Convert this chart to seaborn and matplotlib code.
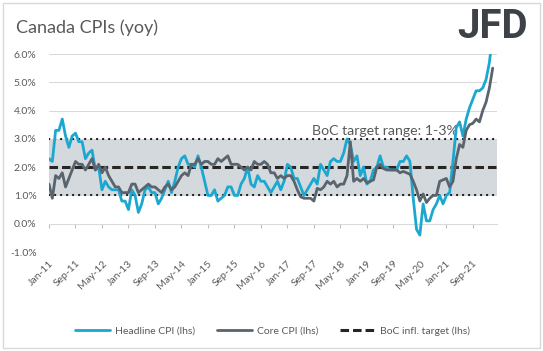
import matplotlib
matplotlib.use('Agg')
import matplotlib.pyplot as plt
import seaborn as sns
import numpy as np
import pandas as pd
from matplotlib.patches import Rectangle
from matplotlib.ticker import FuncFormatter

# ---- data (monthly, Jan-11 .. Mar-22, % yoy) ----
headline = [
    2.3, 2.2, 3.3, 3.3, 3.7, 3.1, 2.7, 3.1, 3.2, 2.9, 2.9, 2.3,
    2.5, 2.6, 1.9, 2.0, 1.2, 1.5, 1.3, 1.2, 1.2, 1.2, 0.8, 0.8,
    0.5, 1.2, 1.0, 0.4, 0.7, 1.2, 1.3, 1.1, 1.1, 0.7, 0.9, 1.2,
    1.5, 1.1, 1.5, 2.0, 2.3, 2.4, 2.1, 2.1, 2.0, 2.4, 2.0, 1.5,
    1.0, 1.0, 1.2, 0.8, 0.9, 1.0, 1.3, 1.3, 1.0, 1.0, 1.4, 1.6,
    2.0, 1.4, 1.3, 1.7, 1.5, 1.5, 1.3, 1.1, 1.3, 1.5, 1.2, 1.5,
    2.1, 2.0, 1.6, 1.6, 1.3, 1.0, 1.2, 1.4, 1.6, 1.4, 2.1, 1.9,
    1.7, 2.2, 2.3, 2.2, 2.2, 2.5, 3.0, 2.8, 2.2, 2.4, 1.7, 2.0,
    1.4, 1.5, 1.9, 2.0, 2.4, 2.0, 2.0, 1.9, 1.9, 1.9, 2.2, 2.2,
    2.4, 2.2, 0.9, -0.2, -0.4, 0.7, 0.1, 0.1, 0.5, 0.7, 1.0, 0.7,
    1.0, 1.1, 2.2, 3.4, 3.6, 3.1, 3.7, 4.1, 4.4, 4.7, 4.7, 4.8,
    5.1, 5.7, 6.7,
]
core = [
    1.4, 0.9, 1.7, 1.6, 1.8, 1.3, 1.6, 1.9, 2.2, 2.1, 2.1, 1.9,
    2.1, 2.3, 1.9, 2.1, 1.8, 2.0, 1.7, 1.5, 1.3, 1.3, 1.1, 1.1,
    1.1, 1.4, 1.4, 1.1, 1.2, 1.3, 1.4, 1.3, 1.3, 1.2, 1.1, 1.3,
    1.4, 1.2, 1.3, 1.5, 1.7, 1.8, 1.7, 2.1, 2.1, 2.3, 2.1, 2.2,
    2.2, 2.1, 2.1, 2.3, 2.2, 2.3, 2.4, 2.1, 2.1, 2.1, 2.0, 1.9,
    2.0, 1.9, 2.2, 2.1, 2.1, 2.2, 2.1, 1.8, 1.8, 1.6, 1.7, 1.6,
    1.7, 1.7, 1.5, 1.2, 0.95, 0.9, 0.9, 0.9, 0.8, 1.25, 1.2, 1.3,
    1.5, 1.4, 1.5, 1.3, 1.4, 1.4, 1.7, 2.9, 1.5, 1.6, 1.5, 1.6,
    1.45, 1.5, 1.55, 2.0, 2.1, 1.95, 1.9, 1.9, 1.9, 1.9, 1.8, 1.85,
    1.8, 1.75, 1.5, 1.2, 0.8, 1.05, 0.75, 0.9, 1.0, 1.0, 1.5, 1.55,
    1.6, 1.3, 1.5, 2.3, 2.8, 2.7, 3.3, 3.5, 3.55, 3.7, 3.6, 4.0,
    4.3, 4.8, 5.5,
]
tick_labels = ['Jan-11', 'Sep-11', 'May-12', 'Jan-13', 'Sep-13', 'May-14',
               'Jan-15', 'Sep-15', 'May-16', 'Jan-17', 'Sep-17', 'May-18',
               'Jan-19', 'Sep-19', 'May-20', 'Jan-21', 'Sep-21']
tick_step = 8
target = 2.0
band_low, band_high = 1.0, 3.0
y_ticks = [-1, 0, 1, 2, 3, 4, 5, 6]

n = len(headline)
df = pd.DataFrame({'month': np.arange(n), 'Headline': headline, 'Core': core})

sns.set_theme(style='white')
plt.rcParams['font.family'] = ['Lato', 'DejaVu Sans']

W, H = 543, 351
fig = plt.figure(figsize=(W / 100, H / 100), dpi=100)
ax = fig.add_axes([49 / W, 99 / H, 448 / W, 198 / H])

grey_txt = '#595959'

# band + reference lines
ax.axhspan(band_low, band_high, color='#D3D9DC', lw=0, zorder=0.5)
for v in (band_low, band_high):
    ax.axhline(v, color='#1a1a1a', lw=1.6, ls=(0, (0.1, 2.6)),
               dash_capstyle='round', zorder=2.5)
ax.axhline(target, color='#262626', lw=2.2, ls=(0, (2.8, 1.3)),
           label='BoC infl. target (lhs)', zorder=2.6)

sns.lineplot(data=df, x='month', y='Headline', ax=ax, color='#1BA8D0',
             lw=2.0, label='Headline CPI (lhs)', zorder=4)
sns.lineplot(data=df, x='month', y='Core', ax=ax, color='#5A646E',
             lw=2.0, label='Core CPI (lhs)', zorder=4.5)

ax.set_xlim(0, 135.3)
ax.set_ylim(-1, 6)
ax.set_yticks(y_ticks)
ax.yaxis.set_major_formatter(FuncFormatter(lambda v, p: f'{v:.1f}%'))
ax.yaxis.grid(True, color='#D9D9D9', lw=0.75)
ax.set_axisbelow(True)
for s in ax.spines.values():
    s.set_visible(False)
ax.set_xlabel('')
ax.set_ylabel('')

xt = np.arange(0, n, tick_step)[:len(tick_labels)]
ax.set_xticks(xt)
ax.set_xticklabels(tick_labels)
ax.tick_params(axis='x', length=0, pad=5, labelsize=7.5, labelcolor=grey_txt)
for lab in ax.get_xticklabels():
    lab.set_rotation(45)
    lab.set_ha('right')
    lab.set_va('top')
    lab.set_rotation_mode('anchor')
ax.tick_params(axis='y', length=0, pad=9, labelsize=7.5, labelcolor=grey_txt)

# category axis line at 0% with tick marks
sec = ax.secondary_xaxis((0 - (-1)) / 7)
sec.set_xticks(xt)
sec.tick_params(axis='x', direction='out', length=3, color='#BFBFBF',
                width=0.8, labelbottom=False, labeltop=False)
for s in sec.spines.values():
    s.set_color('#D9D9D9')
    s.set_linewidth(0.75)

ax.text(101.5, 3.13, 'BoC target range: 1-3%', ha='center', va='baseline',
        fontsize=10.2, color=grey_txt, zorder=3)

handles, labels = ax.get_legend_handles_labels()
if ax.get_legend() is not None:
    ax.get_legend().remove()
order = [labels.index('Headline CPI (lhs)'), labels.index('Core CPI (lhs)'),
         labels.index('BoC infl. target (lhs)')]
leg = fig.legend([handles[i] for i in order], [labels[i] for i in order],
                 loc='center', bbox_to_anchor=(0.502, 1 - 331 / H), ncol=3,
                 frameon=False, fontsize=7.5, handlelength=3.4,
                 handletextpad=0.45, columnspacing=2.1)
for t in leg.get_texts():
    t.set_color(grey_txt)

fig.text(16 / W, 1 - 28 / H, 'Canada CPIs (yoy)', fontsize=13, color=grey_txt,
         ha='left', va='center')
fig.text(528 / W, 1 - 27 / H, 'JFD', fontsize=29, fontweight='bold',
         color='#3D4148', ha='right', va='center', family='Roboto')

fig.add_artist(Rectangle((2.5 / W, 3 / H), 537 / W, 345 / H,
                         transform=fig.transFigure, fill=False,
                         edgecolor='#D9D9D9', lw=1))

fig.savefig('out.png', dpi=100)
